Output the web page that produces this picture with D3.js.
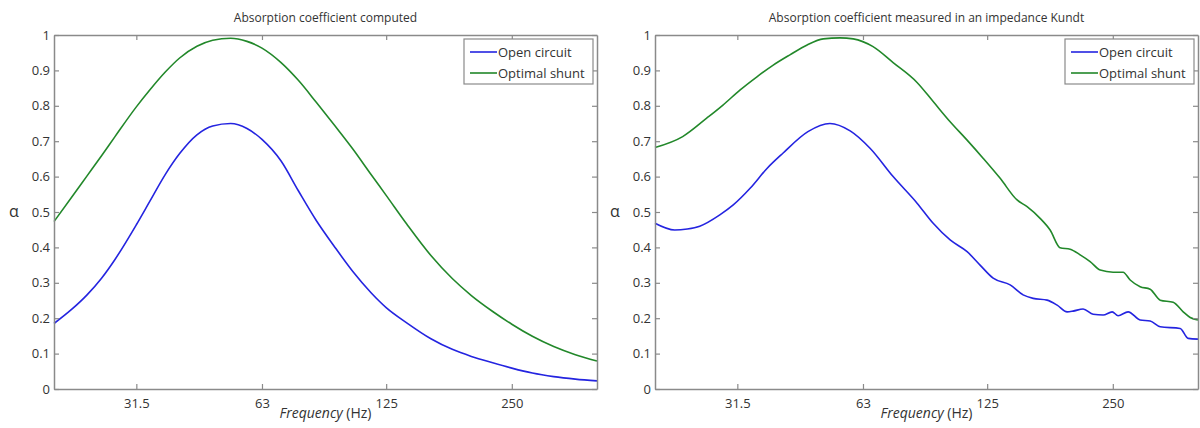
<!DOCTYPE html>
<html><head><meta charset="utf-8">
<script src="https://cdn.jsdelivr.net/npm/d3@7"></script>
<style>
body{margin:0;background:#fff;}
svg text{font-family:"Open Sans","DejaVu Sans",sans-serif;}
</style></head>
<body><svg id="c" width="1200" height="428"></svg>
<script>
// ---------- data ----------
const titles = ["Absorption coefficient computed", "Absorption coefficient measured in an impedance Kundt"];
const seriesNames = ["Open circuit", "Optimal shunt"];
const xTickValues = [31.5, 63, 125, 250];
const xTickLabels = ["31.5", "63", "125", "250"];
const yTickValues = [0, 0.1, 0.2, 0.3, 0.4, 0.5, 0.6, 0.7, 0.8, 0.9, 1];
const yTickLabels = ["0", "0.1", "0.2", "0.3", "0.4", "0.5", "0.6", "0.7", "0.8", "0.9", "1"];

// computed (left)
const compFreq = [20, 22, 24, 26, 28, 31.5, 34, 37, 40, 44, 48, 53, 58, 63, 70, 77, 85, 94, 104, 115, 125, 140, 160, 180, 200, 225, 250, 280, 315, 355, 400];
const compOpen = [0.185, 0.224, 0.266, 0.313, 0.366, 0.464, 0.532, 0.607, 0.665, 0.718, 0.743, 0.750, 0.736, 0.705, 0.644, 0.560, 0.476, 0.402, 0.332, 0.272, 0.230, 0.187, 0.142, 0.112, 0.092, 0.074, 0.059, 0.045, 0.035, 0.028, 0.023];
const compShunt = [0.473, 0.540, 0.602, 0.659, 0.713, 0.797, 0.846, 0.896, 0.935, 0.968, 0.985, 0.991, 0.982, 0.963, 0.922, 0.872, 0.810, 0.745, 0.678, 0.606, 0.547, 0.466, 0.377, 0.312, 0.264, 0.219, 0.183, 0.149, 0.120, 0.097, 0.079];

// measured (right)
const measOpenFreq = [20, 22.3, 23.9, 25.6, 28.6, 30.8, 33.8, 37.1, 40.5, 46.5, 52.5, 58.7, 65.5, 74.4, 84.9, 92.8, 101.9, 111.9, 120.2, 129.2, 141.9, 152.4, 161.1, 174.0, 183.9, 194.3, 200.8, 212.2, 224.3, 237.0, 249.1, 257.4, 272.0, 290.7, 307.2, 324.7, 362.5, 378.9, 400];
const measOpen = [0.468, 0.449, 0.452, 0.460, 0.492, 0.520, 0.567, 0.623, 0.666, 0.727, 0.750, 0.729, 0.680, 0.600, 0.525, 0.468, 0.421, 0.388, 0.350, 0.313, 0.294, 0.266, 0.256, 0.251, 0.237, 0.218, 0.220, 0.226, 0.211, 0.209, 0.218, 0.207, 0.218, 0.195, 0.192, 0.176, 0.171, 0.143, 0.141];
const measShuntFreq = [20, 23.3, 26.6, 29.1, 32.0, 35.1, 38.4, 42.1, 46.3, 50.6, 55.5, 59.7, 66.6, 74.4, 84.9, 92.8, 101.9, 111.9, 122.2, 134.3, 147.4, 155.8, 167.4, 176.9, 186.9, 197.6, 208.8, 220.6, 233.2, 250.4, 264.6, 275.1, 290.7, 307.2, 324.7, 348.8, 368.6, 383.1, 400];
const measShunt = [0.682, 0.713, 0.765, 0.802, 0.845, 0.882, 0.915, 0.944, 0.972, 0.989, 0.992, 0.989, 0.967, 0.922, 0.866, 0.812, 0.755, 0.703, 0.652, 0.595, 0.534, 0.515, 0.482, 0.449, 0.399, 0.395, 0.379, 0.360, 0.336, 0.330, 0.330, 0.308, 0.289, 0.282, 0.251, 0.245, 0.218, 0.202, 0.195];

const colors = ["#2424e0", "#22882a"];

// ---------- drawing ----------
const svg = d3.select("#c");
const panels = [
  {x0: 54, x1: 597, title: titles[0], series: [[compFreq, compOpen], [compFreq, compShunt]]},
  {x0: 655, x1: 1198, title: titles[1], series: [[measOpenFreq, measOpen], [measShuntFreq, measShunt]]}
];
const yTop = 35, yBot = 389;
const axisCol = "#8a8a8a", textCol = "#333";

panels.forEach(p => {
  const x = d3.scaleLog().domain([20, 400]).range([p.x0, p.x1]);
  const y = d3.scaleLinear().domain([0, 1]).range([yBot, yTop]);
  const g = svg.append("g");

  // data lines
  const line = d3.line().x(d => x(d[0])).y(d => y(d[1])).curve(d3.curveMonotoneX);
  p.series.forEach((s, i) => {
    const pts = s[0].map((f, k) => [f, s[1][k]]);
    g.append("path").datum(pts).attr("d", line)
      .attr("fill", "none").attr("stroke", colors[i]).attr("stroke-width", 1.6);
  });

  // axes (ticks inward, MATLAB style)
  const tl = 5;
  const bottom = d3.axisBottom(x).tickValues(xTickValues).tickFormat((d, i) => xTickLabels[i]).tickSizeInner(-tl).tickSizeOuter(0).tickPadding(10);
  const top = d3.axisTop(x).tickValues(xTickValues).tickFormat("").tickSizeInner(-tl).tickSizeOuter(0);
  const left = d3.axisLeft(y).tickValues(yTickValues).tickFormat((d, i) => yTickLabels[i]).tickSizeInner(-tl).tickSizeOuter(0).tickPadding(4);
  const right = d3.axisRight(y).tickValues(yTickValues).tickFormat("").tickSizeInner(-tl).tickSizeOuter(0);
  const ax = [
    g.append("g").attr("transform", `translate(0,${yBot})`).call(bottom),
    g.append("g").attr("transform", `translate(0,${yTop})`).call(top),
    g.append("g").attr("transform", `translate(${p.x0},0)`).call(left),
    g.append("g").attr("transform", `translate(${p.x1},0)`).call(right)
  ];
  ax.forEach(a => {
    a.selectAll("path").attr("stroke", axisCol).attr("stroke-width", 1.5);
    a.selectAll("line").attr("stroke", axisCol).attr("stroke-width", 1.2);
    a.selectAll("text").attr("fill", textCol).style("font-size", "13px");
  });

  // title
  g.append("text").attr("x", (p.x0 + p.x1) / 2).attr("y", 22).attr("text-anchor", "middle")
    .attr("fill", textCol).style("font-size", "12px").text(p.title);

  // x label
  const xl = g.append("text").attr("x", (p.x0 + p.x1) / 2).attr("y", 418).attr("text-anchor", "middle")
    .attr("fill", textCol).style("font-size", "14px");
  xl.append("tspan").attr("font-style", "italic").text("Frequency");
  xl.append("tspan").text(" (Hz)");

  // y label
  g.append("text").attr("x", p.x0 - 40).attr("y", 217).attr("text-anchor", "middle")
    .attr("fill", textCol).style("font-size", "16px").text("α");

  // legend
  const lw = 129, lh = 45;
  const lx = p.x1 - 4 - lw, ly = 39;
  const lg = g.append("g");
  lg.append("rect").attr("x", lx).attr("y", ly).attr("width", lw).attr("height", lh)
    .attr("fill", "#fff").attr("stroke", axisCol).attr("stroke-width", 1.2);
  seriesNames.forEach((n, i) => {
    const yy = ly + 13 + i * 21;
    lg.append("line").attr("x1", lx + 6).attr("x2", lx + 33).attr("y1", yy).attr("y2", yy)
      .attr("stroke", colors[i]).attr("stroke-width", 1.6);
    lg.append("text").attr("x", lx + 34).attr("y", yy + 4.5).attr("fill", textCol)
      .style("font-size", "13px").text(n);
  });
});
</script></body></html>
